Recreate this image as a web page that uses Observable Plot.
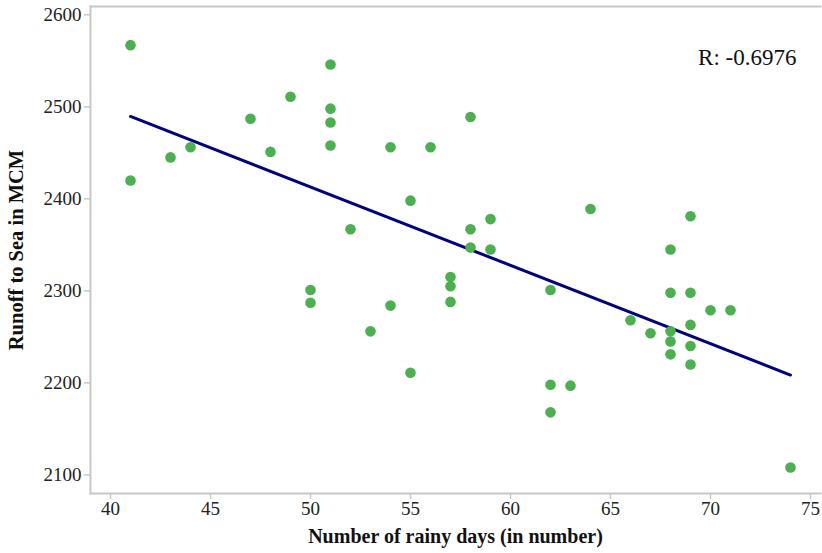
<!DOCTYPE html>
<html>
<head>
<meta charset="utf-8">
<script src="https://cdn.jsdelivr.net/npm/d3@7"></script>
<script src="https://cdn.jsdelivr.net/npm/@observablehq/plot@0.6"></script>
<style>
  html, body { margin: 0; padding: 0; background: #fff; }
  #chart svg { display: block; }
</style>
</head>
<body>
<div id="chart"></div>
<script>
const rainyDays = [41, 41, 43, 44, 47, 48, 49, 51, 51, 51, 51, 52, 58, 54, 56, 55, 58, 59, 64, 58, 59, 57, 57, 57, 54, 53, 55, 62, 62, 63, 62, 50, 50, 68, 68, 69, 70, 71, 66, 67, 68, 69, 68, 68, 69, 69, 74, 69];
const runoff = [2567, 2420, 2445, 2456, 2487, 2451, 2511, 2546, 2498, 2483, 2458, 2367, 2489, 2456, 2456, 2398, 2367, 2378, 2389, 2347, 2345, 2315, 2305, 2288, 2284, 2256, 2211, 2301, 2198, 2197, 2168, 2301, 2287, 2345, 2298, 2298, 2279, 2279, 2268, 2254, 2256, 2263, 2245, 2231, 2240, 2220, 2108, 2381];
const fitX = [41, 74];
const fitY = [2489.5, 2208.5];
const xTicks = [40, 45, 50, 55, 60, 65, 70, 75];
const yTicks = [2100, 2200, 2300, 2400, 2500, 2600];
const rLabel = ["R: -0.6976"];

const points = rainyDays.map((d, i) => ({x: d, y: runoff[i]}));
const fit = fitX.map((d, i) => ({x: d, y: fitY[i]}));

const frameColor = "#c8c8c8";
const fmt = d => String(d);
const chart = Plot.plot({
  width: 822,
  height: 553,
  marginLeft: 90,
  marginRight: 2,
  marginTop: 6,
  marginBottom: 60,
  style: {fontFamily: "'Liberation Serif', 'Times New Roman', serif", fontSize: "20px", color: "#222", background: "#fff"},
  x: {domain: [39, 75.5], ticks: xTicks, tickFormat: fmt, label: null},
  y: {domain: [2079.8, 2609], ticks: yTicks, tickFormat: fmt, label: null},
  marks: [
    Plot.axisX({ticks: xTicks, tickFormat: fmt, tickSize: 6, tickPadding: 2, stroke: frameColor, strokeWidth: 1.5, fontSize: 19, fill: "#222", label: null}),
    Plot.axisY({ticks: yTicks, tickFormat: fmt, tickSize: 6, tickPadding: 3, stroke: frameColor, strokeWidth: 1.5, fontSize: 19, fill: "#222", label: null}),
    Plot.frame({anchor: "left", stroke: frameColor, strokeWidth: 2}),
    Plot.frame({anchor: "bottom", stroke: frameColor, strokeWidth: 2}),
    Plot.frame({anchor: "top", stroke: frameColor, strokeWidth: 2}),
    Plot.line(fit, {x: "x", y: "y", stroke: "#000080", strokeWidth: 3}),
    Plot.dot(points, {x: "x", y: "y", r: 5.3, fill: "#4caf50", stroke: "none"}),
    Plot.text(rLabel, {frameAnchor: "top-right", dx: -24, dy: 42, text: d => d, fontSize: 23, fill: "#111", textAnchor: "end"}),
    Plot.text(["Number of rainy days (in number)"], {frameAnchor: "bottom", dy: 49, text: d => d, fontSize: 20, fontWeight: "bold", fill: "#111"}),
    Plot.text(["Runoff to Sea in MCM"], {frameAnchor: "left", dx: -74, rotate: -90, textAnchor: "middle", text: d => d, fontSize: 20.5, fontWeight: "bold", fill: "#111"})
  ]
});
document.getElementById("chart").appendChild(chart);
</script>
</body>
</html>
